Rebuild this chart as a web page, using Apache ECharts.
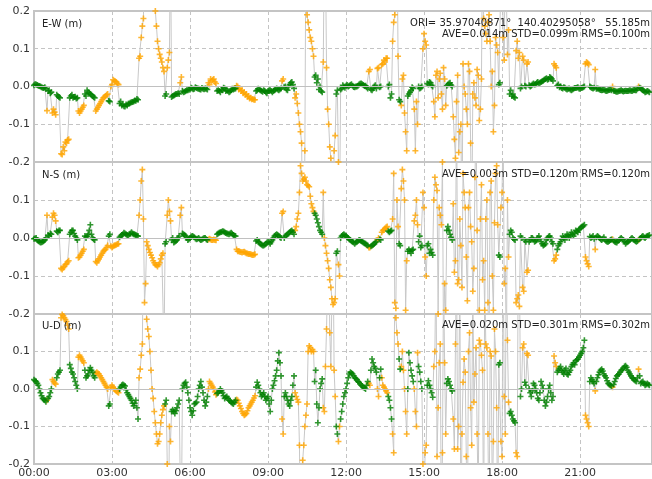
<!DOCTYPE html>
<html><head><meta charset="utf-8">
<script src="https://cdn.jsdelivr.net/npm/echarts@6/dist/echarts.min.js"></script>
<style>html,body{margin:0;padding:0;background:#fff}#c{width:652px;height:479px}</style>
</head><body><div id="c"></div>
<script>
// epoch times in minutes of the day
const epochMinutes = [
0,5,10,15,20,25,30,35,40,45,
50,55,60,65,70,75,80,85,90,95,
100,105,110,115,120,125,130,135,140,145,
150,155,160,165,170,175,180,185,190,195,
200,205,210,215,220,225,230,235,240,245,
250,255,260,265,270,275,280,285,290,295,
300,305,310,315,320,325,330,335,340,345,
350,355,360,365,370,375,380,385,390,395,
400,405,410,415,420,425,430,435,440,445,
450,455,460,465,470,475,480,485,490,495,
500,505,510,515,520,525,530,535,540,545,
550,555,560,565,570,575,580,585,590,595,
600,605,610,615,620,625,630,635,640,645,
650,655,660,665,670,675,680,685,690,695,
700,705,710,715,720,725,730,735,740,745,
750,755,760,765,770,775,780,785,790,795,
800,805,810,815,820,825,830,835,840,845,
850,855,860,865,870,875,880,885,890,895,
900,905,910,915,920,925,930,935,940,945,
950,955,960,965,970,975,980,985,990,995,
1000,1005,1010,1015,1020,1025,1030,1035,1040,1045,
1050,1055,1060,1065,1070,1075,1080,1085,1090,1095,
1100,1105,1110,1115,1120,1125,1130,1135,1140,1145,
1150,1155,1160,1165,1170,1175,1180,1185,1190,1195,
1200,1205,1210,1215,1220,1225,1230,1235,1240,1245,
1250,1255,1260,1265,1270,1275,1280,1285,1290,1295,
1300,1305,1310,1315,1320,1325,1330,1335,1340,1345,
1350,1355,1360,1365,1370,1375,1380,1385,1390,1395,
1400,1405,1410,1415,1420];

// solution quality per epoch: 1 = fix (green), 2 = float (orange)
const quality = [
1,1,1,1,1,1,2,1,1,2,
2,1,1,2,2,2,2,1,1,1,
1,2,2,2,1,1,1,1,1,2,
2,2,2,2,2,1,2,2,2,2,
1,1,1,1,1,1,1,1,1,2,
2,2,2,2,2,2,2,2,2,2,
2,1,2,2,1,1,1,1,2,1,
1,1,1,1,1,1,1,1,1,1,
1,2,2,2,2,1,1,1,1,1,
1,1,1,1,2,2,2,2,2,2,
2,2,2,1,1,1,1,1,1,1,
1,1,1,1,1,2,1,1,1,1,
1,2,2,2,2,2,2,2,2,2,
1,1,1,1,2,2,2,2,2,2,
1,2,1,1,1,1,1,1,1,1,
1,1,1,1,1,2,1,1,1,2,
1,2,2,2,1,1,2,2,2,1,
2,2,2,1,1,1,2,2,1,1,
2,2,1,1,1,2,2,2,2,2,
2,1,1,1,2,2,2,2,2,2,
2,2,2,2,2,2,2,2,2,2,
2,2,2,2,2,1,2,2,2,2,
1,1,1,2,2,1,2,1,2,1,
1,1,1,1,1,1,1,1,1,1,
2,2,1,1,1,1,1,1,1,1,
1,1,1,1,1,2,2,1,1,2,
1,1,1,1,1,1,1,2,1,1,
1,1,1,1,1,1,1,1,1,2,
1,1,1,1,1];

const eastWest = [
0.003,0.005,0.002,0.000,-0.003,-0.002,-0.064,-0.010,-0.015,-0.060,
-0.075,-0.025,-0.030,-0.180,-0.170,-0.150,-0.140,-0.025,-0.030,-0.027,
-0.030,-0.070,-0.060,-0.050,-0.025,-0.015,-0.020,-0.025,-0.030,-0.060,
-0.050,-0.040,-0.030,-0.025,-0.020,-0.040,0.005,0.015,0.012,0.005,
-0.040,-0.048,-0.053,-0.050,-0.045,-0.042,-0.040,-0.038,-0.035,0.080,
0.160,0.400,0.400,0.350,0.300,0.250,0.200,0.120,0.085,0.065,
0.040,-0.020,0.070,0.400,-0.025,-0.022,-0.020,-0.020,0.025,-0.015,
-0.012,-0.010,-0.008,-0.005,-0.006,-0.004,-0.006,-0.008,-0.006,-0.005,
-0.008,0.005,0.015,0.020,0.008,-0.010,-0.015,-0.010,-0.005,-0.010,
-0.015,-0.010,-0.008,-0.005,0.000,-0.005,-0.010,-0.015,-0.020,-0.025,
-0.030,-0.033,-0.035,-0.010,-0.008,-0.012,-0.010,-0.015,-0.012,-0.010,
-0.015,-0.010,-0.005,-0.010,-0.005,0.020,0.000,-0.010,0.005,0.012,
-0.005,-0.020,-0.070,-0.120,-0.400,-0.170,0.190,0.150,0.120,0.080,
0.030,0.020,0.000,-0.015,0.400,0.050,-0.100,-0.190,-0.400,-0.130,
-0.010,-0.350,-0.005,0.000,0.002,0.000,0.004,0.002,-0.002,0.000,
0.005,0.008,0.004,0.002,-0.005,0.045,-0.010,0.000,-0.005,0.050,
0.000,0.060,0.065,0.075,0.005,-0.020,0.170,0.400,0.080,-0.040,
0.020,-0.070,-0.170,-0.020,-0.010,-0.005,-0.170,-0.100,-0.005,0.000,
0.140,0.110,0.005,0.010,0.000,-0.080,0.040,0.020,-0.020,0.050,
-0.050,0.005,0.010,0.000,-0.140,-0.040,-0.175,-0.100,0.060,-0.020,
-0.100,0.040,-0.400,0.010,-0.050,0.030,-0.060,0.400,0.160,0.120,
0.190,0.000,-0.120,0.130,0.090,0.010,0.400,0.070,0.400,0.150,
-0.010,-0.020,-0.030,0.120,0.090,0.000,0.070,0.000,0.065,0.000,
0.005,0.005,0.010,0.008,0.012,0.015,0.020,0.018,0.025,0.020,
0.060,0.050,0.005,0.000,-0.005,-0.003,-0.008,-0.005,-0.010,-0.006,
-0.004,-0.002,-0.006,-0.003,0.000,0.065,0.058,-0.002,-0.005,0.045,
-0.005,-0.008,-0.010,-0.008,-0.012,-0.010,-0.008,0.000,-0.012,-0.014,
-0.012,-0.010,-0.013,-0.011,-0.012,-0.010,-0.012,-0.009,-0.010,0.000,
-0.005,-0.010,-0.015,-0.012,-0.015];

const northSouth = [
-0.002,0.000,-0.008,-0.012,-0.010,-0.005,0.060,0.005,0.010,0.065,
0.045,0.015,0.020,-0.083,-0.075,-0.068,-0.060,0.015,0.020,0.005,
-0.005,-0.050,-0.040,-0.030,0.000,0.010,0.035,0.000,-0.005,-0.065,
-0.055,-0.045,-0.035,-0.030,-0.020,0.010,-0.025,-0.020,-0.018,-0.015,
0.005,0.010,0.012,0.008,0.010,0.015,0.010,0.008,0.005,0.100,
0.180,-0.170,-0.010,-0.030,-0.045,-0.060,-0.070,-0.075,-0.065,-0.045,
-0.300,-0.010,0.100,0.045,0.000,-0.010,-0.005,0.005,0.080,0.010,
0.005,-0.005,0.000,0.005,0.002,-0.003,0.000,-0.005,-0.002,0.000,
-0.005,-0.002,-0.005,-0.004,-0.006,0.012,0.015,0.018,0.015,0.012,
0.010,0.014,0.008,0.005,-0.035,-0.036,-0.038,-0.036,-0.040,-0.042,
-0.043,-0.045,-0.043,-0.005,-0.012,-0.018,-0.020,-0.015,-0.010,-0.015,
-0.005,0.005,0.010,0.005,0.000,0.070,0.005,0.010,0.015,0.020,
0.010,0.030,0.065,0.190,0.150,0.160,0.140,0.135,0.090,0.070,
0.060,0.040,0.020,0.010,0.000,-0.040,-0.080,-0.130,-0.175,-0.160,
-0.035,-0.100,0.005,0.010,0.005,0.000,-0.005,-0.010,-0.015,-0.010,
-0.005,-0.008,-0.012,-0.015,-0.020,-0.025,-0.020,-0.015,-0.010,0.000,
-0.005,0.020,0.025,0.030,0.015,0.020,0.170,-0.185,0.030,-0.020,
0.180,0.100,-0.060,-0.030,-0.040,-0.030,0.060,0.035,0.005,-0.020,
0.080,-0.100,-0.015,-0.030,-0.045,0.160,0.125,0.080,0.035,-0.300,
-0.190,0.030,0.010,-0.005,-0.090,0.350,-0.110,-0.020,0.170,0.080,
-0.165,0.120,-0.010,-0.080,0.300,-0.300,0.050,-0.110,-0.190,0.100,
-0.300,0.150,-0.190,0.170,0.035,-0.050,0.120,-0.120,-0.300,-0.050,
0.020,0.000,-0.005,-0.160,-0.180,0.000,-0.140,-0.010,-0.085,-0.005,
0.000,-0.010,-0.005,0.005,-0.010,-0.020,-0.015,0.000,0.005,-0.010,
-0.060,-0.045,-0.020,-0.010,0.005,-0.005,0.010,0.000,0.015,0.005,
0.020,0.015,0.025,0.030,0.035,-0.060,-0.075,0.000,0.005,-0.030,
0.005,0.000,-0.005,0.002,-0.008,-0.010,-0.005,-0.003,-0.010,-0.012,
-0.005,0.000,-0.005,-0.015,-0.010,-0.005,0.000,-0.005,-0.010,-0.005,
0.000,0.005,0.000,0.005,0.008];

const upDown = [
0.025,0.020,0.010,-0.010,-0.025,-0.030,-0.030,-0.020,0.000,0.020,
0.013,0.040,0.050,0.199,0.190,0.180,0.160,0.055,0.040,0.020,
0.000,0.090,0.080,0.070,0.030,0.040,0.057,0.045,0.030,0.045,
0.040,0.030,0.020,0.010,0.000,-0.040,0.010,0.000,-0.005,-0.010,
0.005,0.012,0.008,-0.010,-0.020,-0.030,-0.045,-0.030,-0.080,0.053,
0.120,0.350,0.186,0.140,0.050,-0.025,-0.090,-0.146,-0.120,-0.070,
-0.045,-0.030,-0.400,-0.140,-0.055,-0.065,-0.050,-0.030,-0.350,0.010,
0.018,-0.010,-0.050,-0.070,-0.040,-0.035,0.000,0.020,-0.010,-0.045,
-0.020,0.020,0.010,0.000,-0.015,-0.010,0.000,-0.010,-0.025,-0.020,
-0.030,-0.035,-0.040,-0.030,-0.030,-0.045,-0.060,-0.070,-0.065,-0.050,
-0.040,-0.030,-0.018,0.018,0.000,-0.020,-0.010,-0.030,-0.020,-0.060,
0.000,0.022,0.050,0.097,0.035,-0.120,-0.010,-0.030,-0.045,-0.020,
0.035,-0.020,-0.035,-0.400,-0.190,-0.100,-0.040,0.115,0.100,0.100,
0.050,-0.090,0.000,0.027,-0.060,0.160,0.400,0.060,0.400,-0.020,
-0.120,-0.100,-0.060,-0.020,0.000,0.030,0.045,0.040,0.030,0.025,
0.018,0.010,0.005,0.000,0.020,0.010,0.080,0.060,0.045,-0.020,
0.053,0.010,0.000,-0.010,-0.030,-0.080,-0.170,0.190,0.120,0.053,
0.100,0.000,-0.120,0.097,0.050,0.020,-0.060,0.097,0.045,0.000,
-0.300,-0.150,0.022,0.000,-0.022,0.100,-0.180,0.070,-0.400,0.300,
-0.120,0.027,0.010,-0.005,-0.160,0.350,-0.100,-0.400,0.018,0.045,
-0.400,0.150,-0.150,-0.035,0.110,-0.300,0.120,0.050,0.300,0.110,
-0.400,0.088,-0.140,0.100,-0.400,0.070,-0.180,-0.020,0.400,-0.035,
-0.060,-0.080,-0.090,-0.180,0.350,0.000,0.120,0.010,0.090,-0.010,
-0.005,0.010,-0.010,-0.030,0.020,0.000,-0.045,-0.020,0.010,-0.030,
0.088,0.060,0.050,0.060,0.045,0.050,0.040,0.045,0.060,0.070,
0.075,0.080,0.090,0.100,0.130,-0.080,-0.100,0.030,0.020,-0.005,
0.030,0.045,0.053,0.040,0.030,0.015,0.010,0.005,0.020,0.035,
0.040,0.050,0.055,0.062,0.050,0.040,0.030,0.025,0.020,0.053,
0.015,0.020,0.010,0.015,0.010];

// intermediate epochs (half-way between the ones above)
const midEpochMinutes = [
2.5,7.5,12.5,17.5,22.5,27.5,32.5,37.5,42.5,47.5,
52.5,57.5,62.5,67.5,72.5,77.5,82.5,87.5,92.5,97.5,
102.5,107.5,112.5,117.5,122.5,127.5,132.5,137.5,142.5,147.5,
152.5,157.5,162.5,167.5,172.5,177.5,182.5,187.5,192.5,197.5,
202.5,207.5,212.5,217.5,222.5,227.5,232.5,237.5,242.5,247.5,
252.5,257.5,262.5,267.5,272.5,277.5,282.5,287.5,292.5,297.5,
302.5,307.5,312.5,317.5,322.5,327.5,332.5,337.5,342.5,347.5,
352.5,357.5,362.5,367.5,372.5,377.5,382.5,387.5,392.5,397.5,
402.5,407.5,412.5,417.5,422.5,427.5,432.5,437.5,442.5,447.5,
452.5,457.5,462.5,467.5,472.5,477.5,482.5,487.5,492.5,497.5,
502.5,507.5,512.5,517.5,522.5,527.5,532.5,537.5,542.5,547.5,
552.5,557.5,562.5,567.5,572.5,577.5,582.5,587.5,592.5,597.5,
602.5,607.5,612.5,617.5,622.5,627.5,632.5,637.5,642.5,647.5,
652.5,657.5,662.5,667.5,672.5,677.5,682.5,687.5,692.5,697.5,
702.5,707.5,712.5,717.5,722.5,727.5,732.5,737.5,742.5,747.5,
752.5,757.5,762.5,767.5,772.5,777.5,782.5,787.5,792.5,797.5,
802.5,807.5,812.5,817.5,822.5,827.5,832.5,837.5,842.5,847.5,
852.5,857.5,862.5,867.5,872.5,877.5,882.5,887.5,892.5,897.5,
902.5,907.5,912.5,917.5,922.5,927.5,932.5,937.5,942.5,947.5,
952.5,957.5,962.5,967.5,972.5,977.5,982.5,987.5,992.5,997.5,
1002.5,1007.5,1012.5,1017.5,1022.5,1027.5,1032.5,1037.5,1042.5,1047.5,
1052.5,1057.5,1062.5,1067.5,1072.5,1077.5,1082.5,1087.5,1092.5,1097.5,
1102.5,1107.5,1112.5,1117.5,1122.5,1127.5,1132.5,1137.5,1142.5,1147.5,
1152.5,1157.5,1162.5,1167.5,1172.5,1177.5,1182.5,1187.5,1192.5,1197.5,
1202.5,1207.5,1212.5,1217.5,1222.5,1227.5,1232.5,1237.5,1242.5,1247.5,
1252.5,1257.5,1262.5,1267.5,1272.5,1277.5,1282.5,1287.5,1292.5,1297.5,
1302.5,1307.5,1312.5,1317.5,1322.5,1327.5,1332.5,1337.5,1342.5,1347.5,
1352.5,1357.5,1362.5,1367.5,1372.5,1377.5,1382.5,1387.5,1392.5,1397.5,
1402.5,1407.5,1412.5,1417.5];

const midQuality = [
1,1,1,1,1,1,1,1,2,2,
1,1,2,2,2,2,1,1,1,1,
2,2,2,1,1,1,1,1,2,2,
2,2,2,2,1,2,2,2,2,1,
1,1,1,1,1,1,1,1,2,2,
2,2,2,2,2,2,2,2,2,2,
1,2,2,1,1,1,1,2,1,1,
1,1,1,1,1,1,1,1,1,1,
2,2,2,2,1,1,1,1,1,1,
1,1,1,2,2,2,2,2,2,2,
2,2,1,1,1,1,1,1,1,1,
1,1,1,1,2,1,1,1,1,1,
2,2,2,2,2,2,2,2,2,1,
1,1,1,2,2,2,2,2,2,1,
2,1,1,1,1,1,1,1,1,1,
1,1,1,1,2,1,1,1,2,1,
2,2,2,1,1,2,2,2,1,2,
2,2,1,1,1,2,2,1,1,2,
2,1,1,1,2,2,2,2,2,2,
1,1,1,2,2,2,2,2,2,2,
2,2,2,2,2,2,2,2,2,2,
2,2,2,2,1,2,2,2,2,1,
1,1,2,2,1,2,1,2,1,1,
1,1,1,1,1,1,1,1,1,1,
2,1,1,1,1,1,1,1,1,1,
1,1,1,1,2,2,1,1,1,1,
1,1,1,1,1,1,1,1,1,1,
1,1,1,1,1,1,1,1,1,1,
1,1,1,1];

const midEastWest = [
0.006,0.004,0.001,-0.002,-0.004,-0.006,-0.012,-0.018,-0.070,-0.068,
-0.022,-0.028,-0.178,-0.160,-0.147,-0.142,-0.030,-0.022,-0.028,-0.032,
-0.065,-0.065,-0.055,-0.020,-0.010,-0.018,-0.022,-0.028,-0.065,-0.055,
-0.045,-0.035,-0.028,-0.022,-0.038,0.000,0.018,0.014,0.008,-0.045,
-0.050,-0.052,-0.048,-0.046,-0.043,-0.041,-0.037,-0.033,0.075,0.130,
0.180,0.450,0.380,0.330,0.280,0.220,0.160,0.100,0.075,0.050,
-0.025,0.050,0.090,-0.028,-0.024,-0.020,-0.018,0.010,-0.012,-0.014,
-0.010,-0.008,-0.003,-0.007,-0.002,-0.005,-0.007,-0.004,-0.007,-0.006,
0.010,0.020,0.018,0.012,-0.012,-0.012,-0.008,-0.003,-0.012,-0.012,
-0.013,-0.006,-0.006,0.002,-0.008,-0.012,-0.018,-0.022,-0.027,-0.032,
-0.034,-0.035,-0.012,-0.006,-0.010,-0.014,-0.012,-0.018,-0.010,-0.012,
-0.012,-0.007,-0.008,-0.007,0.015,-0.002,-0.008,0.000,0.010,0.005,
-0.030,-0.045,-0.100,-0.150,-0.450,0.400,0.170,0.130,0.100,0.025,
0.010,-0.008,-0.012,0.065,0.350,-0.060,-0.160,-0.450,-0.170,-0.020,
-0.200,-0.008,0.003,-0.003,0.004,0.002,0.006,-0.001,0.000,0.002,
0.007,0.006,0.001,-0.002,0.040,-0.008,-0.005,0.003,0.048,-0.002,
0.058,0.070,0.075,0.000,-0.030,0.120,0.190,0.450,-0.035,-0.050,
0.030,-0.120,-0.025,-0.015,-0.002,-0.060,-0.040,0.000,-0.003,0.100,
0.120,0.008,0.012,0.003,-0.040,0.030,-0.030,0.035,-0.060,0.020,
0.002,0.008,0.004,-0.080,-0.190,0.030,-0.120,-0.400,0.000,-0.060,
0.060,-0.150,-0.020,-0.030,0.045,-0.090,0.020,0.180,0.140,0.170,
0.120,0.040,-0.050,0.110,0.005,0.300,0.130,0.400,0.085,-0.020,
-0.025,-0.028,0.095,0.075,-0.005,0.080,0.002,0.060,0.003,0.002,
0.008,0.006,0.012,0.010,0.014,0.018,0.022,0.020,0.023,0.015,
0.055,0.002,-0.002,-0.004,-0.002,-0.006,-0.006,-0.008,-0.008,-0.004,
-0.003,-0.005,-0.004,-0.002,0.060,0.062,0.000,-0.004,-0.003,-0.006,
-0.006,-0.009,-0.009,-0.010,-0.011,-0.009,-0.010,-0.011,-0.013,-0.013,
-0.011,-0.012,-0.012,-0.012,-0.011,-0.011,-0.010,-0.010,-0.006,-0.003,
-0.008,-0.012,-0.014,-0.013];

const midNorthSouth = [
-0.001,-0.005,-0.010,-0.011,-0.008,0.000,0.008,0.012,0.055,0.060,
0.018,0.020,-0.080,-0.078,-0.070,-0.063,0.010,0.020,0.012,0.000,
-0.052,-0.045,-0.035,0.005,0.005,0.020,0.010,-0.003,-0.062,-0.060,
-0.050,-0.040,-0.032,-0.025,0.005,-0.022,-0.022,-0.019,-0.016,0.002,
0.008,0.014,0.010,0.006,0.012,0.012,0.009,0.006,0.060,0.150,
0.050,-0.120,-0.020,-0.038,-0.052,-0.065,-0.072,-0.070,-0.055,-0.040,
-0.015,0.060,0.070,-0.005,-0.012,-0.008,0.000,0.060,0.012,0.008,
0.000,-0.003,0.003,0.004,-0.001,-0.002,-0.003,-0.004,0.000,-0.003,
-0.004,-0.004,-0.005,-0.005,0.010,0.014,0.016,0.017,0.013,0.011,
0.012,0.011,0.006,-0.030,-0.035,-0.037,-0.037,-0.038,-0.041,-0.042,
-0.044,-0.044,-0.008,-0.010,-0.015,-0.020,-0.018,-0.012,-0.012,-0.010,
0.000,0.008,0.008,0.002,0.065,0.000,0.008,0.012,0.018,0.015,
0.020,0.050,0.120,0.170,0.155,0.150,0.138,0.110,0.080,0.065,
0.050,0.030,0.015,0.120,-0.020,-0.060,-0.110,-0.160,-0.170,-0.040,
-0.070,0.000,0.008,0.007,0.002,-0.003,-0.008,-0.012,-0.012,-0.008,
-0.006,-0.010,-0.014,-0.018,-0.025,-0.022,-0.018,-0.012,-0.005,-0.003,
0.015,0.022,0.028,0.018,0.018,0.050,-0.170,0.100,-0.015,0.130,
0.150,-0.190,-0.035,-0.035,-0.032,0.045,0.100,-0.010,-0.025,0.120,
-0.050,-0.020,-0.040,-0.038,0.100,0.140,-0.200,0.060,0.200,-0.120,
0.020,0.020,0.002,0.090,-0.060,-0.120,0.050,-0.130,0.120,-0.050,
0.080,0.030,-0.140,0.160,0.020,-0.190,0.140,-0.060,0.050,-0.170,
0.120,-0.100,0.040,0.190,-0.045,0.080,0.300,-0.080,0.100,0.010,
0.015,-0.003,-0.170,-0.150,0.005,-0.130,-0.005,-0.090,-0.010,0.000,
-0.004,-0.008,0.000,-0.002,-0.015,-0.018,-0.005,0.004,0.000,-0.015,
-0.055,-0.030,-0.015,-0.003,0.000,0.004,0.006,0.008,0.010,0.012,
0.018,0.022,0.028,0.032,-0.050,-0.068,0.004,0.002,-0.002,0.002,
0.003,-0.003,-0.002,-0.004,-0.010,-0.008,-0.004,-0.007,-0.011,-0.008,
-0.002,-0.003,-0.010,-0.012,-0.008,-0.002,-0.003,-0.008,-0.008,-0.002,
0.003,0.002,0.003,0.006];

const midUpDown = [
0.022,0.015,0.000,-0.018,-0.028,-0.034,-0.025,-0.010,0.025,0.016,
0.030,0.045,0.190,0.195,0.185,0.170,0.065,0.045,0.030,0.010,
0.085,0.085,0.075,0.050,0.035,0.050,0.050,0.035,0.042,0.042,
0.035,0.025,0.015,0.005,-0.045,0.005,0.005,-0.002,-0.008,0.000,
0.010,0.010,-0.002,-0.015,-0.025,-0.038,-0.038,-0.050,0.030,0.090,
0.400,0.250,0.160,0.100,0.000,-0.060,-0.120,-0.140,-0.090,-0.055,
-0.040,-0.200,-0.100,-0.060,-0.060,-0.058,-0.040,-0.250,0.000,0.015,
0.005,-0.030,-0.060,-0.058,-0.038,-0.020,0.010,0.005,-0.030,-0.035,
0.000,0.015,0.005,-0.008,-0.012,-0.005,-0.005,-0.018,-0.022,-0.025,
-0.032,-0.038,-0.035,-0.028,-0.038,-0.052,-0.065,-0.068,-0.058,-0.045,
-0.035,-0.024,0.005,0.010,-0.010,-0.015,-0.020,-0.025,-0.040,-0.030,
0.010,0.035,0.075,0.070,-0.080,-0.020,-0.020,-0.040,-0.030,0.010,
-0.010,-0.028,-0.150,-0.300,-0.150,-0.070,0.100,0.110,0.105,0.020,
-0.040,-0.050,0.015,-0.050,0.060,0.300,0.150,0.250,0.050,-0.100,
-0.140,-0.080,-0.040,-0.010,0.015,0.040,0.043,0.035,0.028,0.020,
0.014,0.008,0.003,0.010,0.015,0.050,0.070,0.055,0.000,0.030,
0.030,0.005,-0.005,-0.020,-0.050,-0.120,0.300,0.150,0.080,0.060,
0.050,-0.060,0.000,0.070,0.035,0.000,-0.100,0.060,0.020,-0.200,
-0.170,0.010,0.010,-0.010,0.060,0.350,-0.050,0.120,-0.170,0.070,
0.015,0.020,0.000,-0.080,0.120,-0.160,0.350,-0.120,0.080,-0.180,
0.100,-0.050,0.300,0.040,-0.120,0.130,0.090,-0.400,0.120,-0.120,
0.100,-0.300,0.160,-0.050,0.065,-0.140,0.400,-0.120,0.130,-0.065,
-0.070,-0.085,-0.170,0.400,-0.020,0.110,0.018,0.095,0.000,-0.020,
0.015,0.000,-0.025,-0.010,0.010,-0.030,-0.035,0.000,-0.010,-0.020,
0.070,0.045,0.055,0.050,0.040,0.055,0.038,0.050,0.065,0.065,
0.078,0.085,0.095,0.110,-0.070,-0.090,0.020,0.025,0.015,0.020,
0.038,0.050,0.048,0.035,0.022,0.012,0.008,0.012,0.028,0.038,
0.045,0.052,0.060,0.058,0.045,0.035,0.028,0.022,0.030,0.035,
0.018,0.015,0.012,0.012];

const panelLabels = ['E-W (m)', 'N-S (m)', 'U-D (m)'];
const statLines = [
  'AVE=0.014m STD=0.099m RMS=0.100m',
  'AVE=0.003m STD=0.120m RMS=0.120m',
  'AVE=0.020m STD=0.301m RMS=0.302m'
];
const originLine = 'ORI= 35.97040871°  140.40295058°   55.185m';

const chart = echarts.init(document.getElementById('c'), null, {renderer: 'canvas'});
const gridBoxes = [{top: 11, height: 151}, {top: 162, height: 152}, {top: 314, height: 151}];
const plusSymbol = 'path://M2.2,0H3.8V2.2H6V3.8H3.8V6H2.2V3.8H0V2.2H2.2Z';
const FONT = '"DejaVu Sans", Verdana, sans-serif';

// merge main and intermediate epochs in time order
const rows = [];
for (let i = 0; i < epochMinutes.length; i++)
  rows.push({t: epochMinutes[i], q: quality[i], v: [eastWest[i], northSouth[i], upDown[i]]});
for (let j = 0; j < midEpochMinutes.length; j++)
  rows.push({t: midEpochMinutes[j], q: midQuality[j], v: [midEastWest[j], midNorthSouth[j], midUpDown[j]]});
rows.sort((a, b) => a.t - b.t);

function hhmm(v) {
  const h = Math.floor(v / 60), m = Math.round(v % 60);
  return (h < 10 ? '0' : '') + h + ':' + (m < 10 ? '0' : '') + m;
}

const grid = [], xAxis = [], yAxis = [], series = [];
for (let k = 0; k < 3; k++) {
  grid.push({left: 34, right: -3, top: gridBoxes[k].top, height: gridBoxes[k].height,
    show: true, borderColor: '#c4c4c4', borderWidth: 2, backgroundColor: 'transparent', containLabel: false});
  xAxis.push({gridIndex: k, type: 'value', min: 0, max: 1426, interval: 180,
    axisLine: {show: false}, axisTick: {show: false},
    splitLine: {show: true, lineStyle: {color: '#c4c4c4', type: [4, 3], width: 1}},
    axisLabel: {show: k === 2, margin: 4, color: '#333', fontFamily: FONT, fontSize: 11,
      showMaxLabel: false,
      formatter: v => (v % 180 === 0 && v <= 1260) ? hhmm(v) : ''}});
  yAxis.push({gridIndex: k, type: 'value', min: -0.2, max: 0.2, interval: 0.1,
    axisLine: {show: false}, axisTick: {show: false},
    splitLine: {show: true, lineStyle: {color: '#c4c4c4', type: [4, 3], width: 1}},
    axisLabel: {margin: 4, color: '#333', fontFamily: FONT, fontSize: 11,
      showMaxLabel: k === 0, showMinLabel: true,
      formatter: v => (Math.abs(v) < 1e-9 ? 0 : v).toFixed(1)}});
  const all = [], fix = [], flt = [];
  rows.forEach(r => {
    const p = [r.t, r.v[k]];
    all.push(p);
    (r.q === 1 ? fix : flt).push(p);
  });
  series.push({type: 'line', xAxisIndex: k, yAxisIndex: k, data: all, symbol: 'none', showSymbol: false,
    lineStyle: {color: '#c8c8c8', width: 1}, z: 2, silent: true, clip: true,
    markLine: {silent: true, symbol: 'none', label: {show: false}, animation: false,
      lineStyle: {color: '#c0c0c0', type: 'solid', width: 1.2}, data: [{yAxis: 0}]}});
  series.push({type: 'scatter', xAxisIndex: k, yAxisIndex: k, data: flt, symbol: plusSymbol, symbolSize: 6,
    itemStyle: {color: '#FFA500'}, z: 3, silent: true, clip: true});
  series.push({type: 'scatter', xAxisIndex: k, yAxisIndex: k, data: fix, symbol: plusSymbol, symbolSize: 6,
    itemStyle: {color: '#008000'}, z: 4, silent: true, clip: true});
}

const graphic = [];
const labelTops = [19, 170, 321.5];
const statTops = [29.5, 169, 320.5];
panelLabels.forEach((t, k) => {
  graphic.push({type: 'text', left: 42, top: labelTops[k], z: 10,
    style: {text: t, font: '10px ' + FONT, fill: '#222'}});
  graphic.push({type: 'text', right: 2, top: statTops[k], z: 10,
    style: {text: statLines[k], font: '10px ' + FONT, fill: '#222'}});
});
graphic.push({type: 'text', right: 2, top: 18, z: 10,
  style: {text: originLine, font: '10px ' + FONT, fill: '#222'}});

chart.setOption({animation: false, backgroundColor: '#fff', grid, xAxis, yAxis, series, graphic});
</script>
</body></html>
